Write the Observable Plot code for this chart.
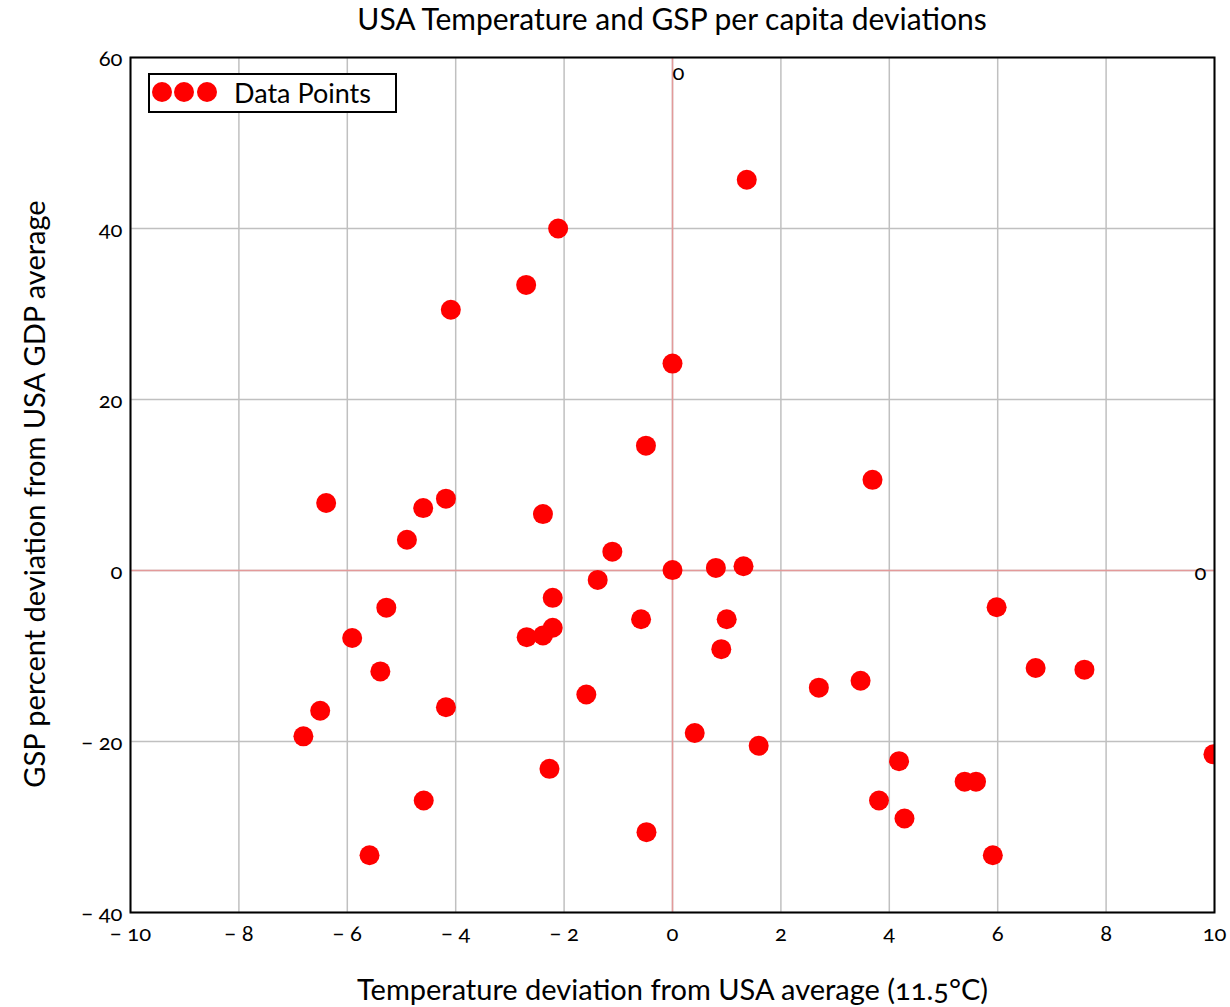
<!DOCTYPE html>
<html>
<head>
<meta charset="utf-8">
<script src="https://cdn.jsdelivr.net/npm/d3@7"></script>
<script src="https://cdn.jsdelivr.net/npm/@observablehq/plot@0.6"></script>
<style>
  html, body { margin: 0; padding: 0; background: white; }
  #wrap { position: relative; width: 1230px; height: 1007px; font-family: Lato, "Open Sans", sans-serif; font-variant-numeric: oldstyle-nums; color: black; }
  #title { position: absolute; left: 130px; width: 1084px; top: 0px; text-align: center; font-size: 30px; line-height: 1.2; white-space: nowrap; }
  #chart { position: absolute; left: 0; top: 45px; }
  #legend { position: absolute; left: 148px; top: 73px; width: 249px; height: 40px; box-sizing: border-box; border: 2px solid black; background: white; }
  #legend svg { position: absolute; left: 0; top: 0; }
  #legend span { position: absolute; left: 84px; top: 0; line-height: 36px; font-size: 27px; white-space: nowrap; }
</style>
</head>
<body>
<div id="wrap">
  <div id="title">USA Temperature and GSP per capita deviations</div>
  <div id="chart"></div>
  <div id="legend">
    <svg width="245" height="36"><circle cx="12" cy="17" r="10" fill="#ff0000"/><circle cx="34" cy="17" r="10" fill="#ff0000"/><circle cx="57" cy="17" r="10" fill="#ff0000"/></svg>
    <span>Data Points</span>
  </div>
</div>
<script>
// Temperature deviation from USA average (°C)
const tempDev = [
  1.37, -2.11, -2.70, -4.09, 0.00, -0.49, 3.69, -2.39,
  5.98, 6.70, 7.60, 3.47, 2.70, 0.41, 1.59,
  4.18, 3.81, 4.28, 5.39, 5.60, 5.91, 9.98,
  -6.39, -4.60, -4.18, -4.90, -5.28, -5.91, -5.39, -6.50, -6.81, -4.18,
  -1.11, -1.38, 0.00, 0.80, 1.31, -2.21, -0.58, 1.00, -2.21, -2.39, -2.69, 0.90, -1.59,
  -4.59, -5.59, -2.27, -0.48
];
// GSP percent deviation from USA GDP average
const gspDev = [
  45.7, 40.0, 33.4, 30.5, 24.2, 14.6, 10.6, 6.6,
  -4.3, -11.4, -11.6, -12.9, -13.7, -19.0, -20.5,
  -22.3, -26.9, -29.0, -24.7, -24.7, -33.3, -21.5,
  7.9, 7.3, 8.4, 3.6, -4.35, -7.9, -11.8, -16.4, -19.4, -16.0,
  2.2, -1.1, 0.05, 0.3, 0.5, -3.2, -5.7, -5.7, -6.7, -7.6, -7.8, -9.2, -14.5,
  -26.9, -33.3, -23.2, -30.6
];
const xTicks = [-10, -8, -6, -4, -2, 0, 2, 4, 6, 8, 10];
const yTicks = [-40, -20, 0, 20, 40, 60];
const xLabel = "Temperature deviation from USA average (11.5°C)";
const yLabel = "GSP percent deviation from USA GDP average";
const legendLabel = "Data Points";

const points = tempDev.map((t, i) => ({t, g: gspDev[i]}));
const fmt = d => d < 0 ? "\u2212 " + Math.abs(d) : String(d);

const chart = Plot.plot({
  width: 1230,
  height: 962,
  marginLeft: 130,
  marginRight: 16,
  marginTop: 12,
  marginBottom: 95,
  style: {fontFamily: "Lato, 'Open Sans', sans-serif", background: "white", color: "black", fontVariantNumeric: "oldstyle-nums", overflow: "visible"},
  x: {domain: [-10, 10]},
  y: {domain: [-40, 60]},
  marks: [
    Plot.gridX(xTicks, {stroke: "#c0c0c0", strokeOpacity: 1, strokeWidth: 1.5}),
    Plot.gridY(yTicks, {stroke: "#c0c0c0", strokeOpacity: 1, strokeWidth: 1.5}),
    Plot.ruleX([0], {stroke: "#e39a9a", strokeWidth: 1.5}),
    Plot.ruleY([0], {stroke: "#e39a9a", strokeWidth: 1.5}),
    Plot.dot(points, {x: "t", y: "g", r: 10, fill: "#ff0000", stroke: null, clip: true}),
    Plot.frame({stroke: "black", strokeWidth: 2}),
    Plot.axisX(xTicks, {tickSize: 0, tickPadding: 13, fontSize: 22, fontVariant: "oldstyle-nums", tickFormat: fmt, label: null}),
    Plot.axisY(yTicks, {tickSize: 0, tickPadding: 8, fontSize: 22, fontVariant: "oldstyle-nums", tickFormat: fmt, label: null, dy: 1}),
    Plot.text([0], {x: d => d, text: d => String(d), frameAnchor: "top", textAnchor: "start", lineAnchor: "middle", dy: 15, fontSize: 22, fontVariant: "oldstyle-nums"}),
    Plot.text([0], {y: d => d, text: d => String(d), frameAnchor: "right", textAnchor: "end", lineAnchor: "middle", dx: -8, dy: 2, fontSize: 22, fontVariant: "oldstyle-nums"}),
    Plot.text([xLabel], {text: d => d, frameAnchor: "bottom", textAnchor: "middle", lineAnchor: "middle", dy: 78, fontSize: 29}),
    Plot.text([yLabel], {text: d => d, frameAnchor: "left", textAnchor: "middle", lineAnchor: "middle", rotate: -90, dx: -95, dy: 9, fontSize: 29})
  ]
});
document.getElementById("chart").appendChild(chart);
document.querySelector("#legend span").textContent = legendLabel;
</script>
</body>
</html>
